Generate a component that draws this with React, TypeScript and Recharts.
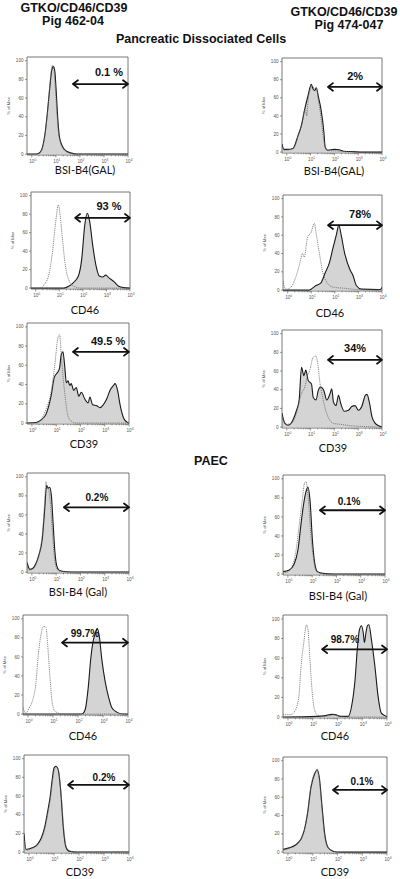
import React from "react";
import { ComposedChart, Area, Line, XAxis, YAxis, ReferenceLine, ReferenceDot } from "recharts";

type Pt = [number, number];

// x = log10 fluorescence (decades), y = % of max
// Pancreatic dissociated cells
const pancGal462: Pt[] = [[-0.2, 0], [0.2, 0], [0.35, 2], [0.45, 8], [0.55, 22], [0.65, 45], [0.75, 72], [0.83, 90], [0.9, 94], [0.96, 88], [1.02, 65], [1.08, 38], [1.14, 20], [1.2, 13], [1.3, 7], [1.45, 3], [1.65, 1], [1.9, 0], [4, 0]];
const pancGal462Ctl: Pt[] = [[-0.2, 0], [0.25, 0], [0.38, 3], [0.48, 10], [0.58, 27], [0.68, 52], [0.77, 80], [0.85, 95], [0.92, 90], [0.98, 70], [1.04, 45], [1.1, 25], [1.17, 14], [1.27, 7], [1.4, 3], [1.6, 1], [1.85, 0], [4, 0]];
const pancGal474: Pt[] = [[-0.2, 9], [-0.12, 3], [0.05, 3], [0.26, 4], [0.47, 18], [0.61, 29], [0.75, 47], [0.89, 62], [1.03, 75], [1.1, 70], [1.17, 68], [1.24, 71], [1.33, 61], [1.44, 47], [1.56, 22], [1.61, 6], [1.72, 2], [2.0, 3], [2.2, 2.5], [2.4, 1], [2.8, 0.5], [3.2, 0], [4, 0]];
const pancGal474Ctl: Pt[] = [[-0.2, 6], [-0.1, 2], [0.1, 2.5], [0.3, 5], [0.5, 20], [0.65, 33], [0.78, 48], [0.84, 40], [0.9, 58], [1.0, 70], [1.08, 73], [1.16, 70], [1.24, 72], [1.32, 58], [1.42, 42], [1.52, 20], [1.6, 7], [1.7, 2], [1.9, 1.5], [2.2, 1], [2.6, 0.3], [4, 0]];
const pancCd46_462: Pt[] = [[-0.2, 0], [1.2, 0], [1.4, 2], [1.6, 6], [1.81, 13], [1.95, 31], [2.08, 68], [2.19, 81], [2.29, 72], [2.42, 46], [2.56, 24], [2.7, 13], [2.84, 12], [2.97, 14], [3.11, 11], [3.32, 7], [3.52, 2], [3.73, 0.5], [4, 0]];
const pancCd46_462Ctl: Pt[] = [[-0.2, 0], [0.15, 0], [0.37, 4], [0.58, 17], [0.71, 39], [0.85, 72], [0.96, 90], [1.04, 78], [1.12, 57], [1.26, 24], [1.4, 9], [1.6, 2], [1.95, 0], [4, 0]];
const pancCd46_474: Pt[] = [[-0.2, 0], [0.9, 0], [0.99, 1], [1.2, 5], [1.41, 8], [1.59, 19], [1.77, 30], [1.91, 45], [2.06, 60], [2.17, 71], [2.27, 60], [2.41, 41], [2.63, 23], [2.77, 16], [2.91, 5], [3.13, 1], [3.84, 0.5], [3.95, 1], [4, 3]];
const pancCd46_474Ctl: Pt[] = [[-0.2, 10], [-0.12, 2], [-0.04, 1], [0.13, 3], [0.34, 14], [0.49, 27], [0.63, 40], [0.7, 36], [0.84, 58], [0.99, 63], [1.13, 73], [1.2, 63], [1.34, 41], [1.49, 19], [1.63, 10], [1.77, 5], [1.99, 3], [2.41, 2], [2.99, 0.5], [4, 0]];
const pancCd39_462: Pt[] = [[-0.2, 0], [0.17, 0.5], [0.37, 3], [0.58, 9], [0.79, 28], [0.93, 48], [1.07, 53], [1.14, 57], [1.21, 71], [1.28, 74], [1.35, 60], [1.42, 42], [1.49, 44], [1.56, 39], [1.62, 41], [1.72, 34], [1.83, 37], [1.93, 28], [2.04, 32], [2.18, 25], [2.32, 21], [2.39, 27], [2.5, 19], [2.67, 18], [2.81, 16], [2.94, 19], [3.08, 25], [3.22, 34], [3.36, 39], [3.43, 41], [3.53, 34], [3.64, 18], [3.78, 5], [3.92, 1], [4, 0]];
const pancCd39_462Ctl: Pt[] = [[-0.2, 0], [0.2, 0], [0.37, 3], [0.58, 14], [0.79, 32], [0.93, 57], [1.07, 88], [1.14, 92], [1.22, 67], [1.35, 32], [1.49, 7], [1.62, 2], [1.83, 0], [4, 0]];
const pancCd39_474: Pt[] = [[-0.2, 15], [-0.08, 4], [0.06, 2], [0.27, 8], [0.41, 18], [0.52, 29], [0.62, 64], [0.72, 55], [0.8, 61], [0.9, 50], [1.04, 46], [1.11, 32], [1.23, 29], [1.32, 39], [1.42, 43], [1.56, 39], [1.68, 29], [1.82, 36], [1.89, 41], [1.96, 27], [2.07, 23], [2.17, 34], [2.27, 25], [2.41, 17], [2.59, 18], [2.73, 22], [2.87, 23], [3.01, 18], [3.15, 22], [3.3, 34], [3.37, 35], [3.48, 25], [3.58, 11], [3.72, 4], [3.86, 1.5], [4, 0]];
const pancCd39_474Ctl: Pt[] = [[-0.2, 11], [-0.04, 3], [0.2, 4], [0.41, 15], [0.62, 36], [0.76, 43], [0.86, 54], [0.97, 61], [1.11, 75], [1.23, 76], [1.3, 68], [1.39, 48], [1.51, 32], [1.61, 20], [1.75, 10], [1.96, 4], [2.24, 3], [2.66, 1.5], [3.37, 0.5], [4, 0]];

// PAEC
const paecGal462: Pt[] = [[-0.2, 10], [-0.08, 3], [0.01, 3.5], [0.15, 8], [0.29, 18], [0.43, 35], [0.52, 63], [0.61, 91], [0.66, 88], [0.73, 89], [0.8, 81], [0.88, 49], [0.95, 21], [1.02, 7], [1.12, 2], [1.32, 0.5], [1.6, 0], [4, 0]];
const paecGal462Ctl: Pt[] = [[-0.2, 6], [-0.1, 2], [0.05, 3], [0.2, 10], [0.33, 22], [0.45, 45], [0.53, 75], [0.58, 95], [0.63, 90], [0.7, 86], [0.77, 70], [0.85, 40], [0.93, 15], [1.0, 5], [1.1, 1.5], [1.3, 0.3], [4, 0]];
const paecGal474: Pt[] = [[-0.2, 2.5], [0.04, 4], [0.25, 10], [0.42, 26], [0.53, 50], [0.64, 72], [0.74, 86], [0.83, 91], [0.92, 75], [1.01, 36], [1.11, 11], [1.22, 2.5], [1.43, 0.7], [1.9, 0], [4, 0]];
const paecGal474Ctl: Pt[] = [[-0.2, 1], [0.04, 3], [0.18, 8.5], [0.32, 22], [0.46, 50], [0.6, 79], [0.69, 96], [0.75, 97], [0.83, 82], [0.94, 43], [1.06, 15], [1.15, 4], [1.36, 0.7], [1.8, 0], [4, 0]];
const paecCd46_462: Pt[] = [[-0.2, 0], [2.1, 0], [2.2, 0.7], [2.3, 6], [2.41, 28], [2.51, 58], [2.61, 77], [2.7, 85], [2.77, 90], [2.85, 82], [2.95, 58], [3.08, 35], [3.22, 18], [3.35, 7], [3.55, 2], [3.82, 0], [4, 0]];
const paecCd46_462Ctl: Pt[] = [[-0.2, 7], [-0.09, 1], [0.04, 6], [0.18, 14], [0.31, 31], [0.41, 62], [0.51, 82], [0.62, 92], [0.72, 91], [0.78, 75], [0.88, 38], [0.96, 14], [1.05, 4], [1.26, 0.7], [1.6, 0], [4, 0]];
const paecCd46_474: Pt[] = [[-0.2, 0], [1.17, 0.7], [1.51, 1.4], [1.77, 2.7], [1.91, 2.4], [2.11, 0.7], [2.44, 0.7], [2.57, 11], [2.71, 38], [2.8, 69], [2.88, 88], [2.97, 93], [3.04, 86], [3.09, 76], [3.15, 86], [3.21, 93], [3.27, 94], [3.37, 79], [3.51, 52], [3.64, 21], [3.77, 4], [3.97, 0.7], [4, 0]];
const paecCd46_474Ctl: Pt[] = [[-0.2, 2.4], [0.11, 2.4], [0.31, 7.5], [0.44, 21], [0.53, 52], [0.64, 76], [0.75, 94], [0.81, 89], [0.88, 62], [0.97, 28], [1.07, 7.5], [1.17, 2.4], [1.44, 0.7], [1.71, 1.5], [1.84, 2.4], [1.97, 1.7], [2.11, 0.7], [2.37, 0], [4, 0]];
const paecCd39_462: Pt[] = [[-0.2, 20], [-0.12, 3], [-0.07, 3], [0.13, 4.5], [0.33, 8], [0.49, 15], [0.63, 27], [0.73, 41], [0.84, 58], [0.93, 78], [1.0, 90], [1.07, 92], [1.16, 89], [1.27, 65], [1.37, 27], [1.47, 6], [1.6, 1], [1.93, 0], [4, 0]];
const paecCd39_462Ctl: Pt[] = [[-0.2, 12], [-0.12, 2], [0.1, 3.5], [0.3, 7], [0.5, 14], [0.65, 27], [0.76, 42], [0.87, 60], [0.96, 80], [1.04, 90], [1.1, 91], [1.18, 87], [1.3, 58], [1.4, 22], [1.5, 5], [1.65, 0.8], [2, 0], [4, 0]];
const paecCd39_474: Pt[] = [[-0.2, 3], [0.04, 4.6], [0.32, 8], [0.52, 14], [0.66, 24], [0.79, 42], [0.93, 71], [1.07, 85], [1.18, 90], [1.27, 81], [1.38, 49], [1.48, 21], [1.62, 5], [1.82, 1], [2.1, 0], [4, 0]];
const paecCd39_474Ctl: Pt[] = [[-0.2, 2], [0.04, 4], [0.32, 7.5], [0.52, 14], [0.68, 26], [0.8, 45], [0.93, 72], [1.06, 86], [1.16, 89], [1.24, 84], [1.36, 52], [1.46, 22], [1.6, 6], [1.8, 1], [2.1, 0], [4, 0]];

const samples = [pancGal462, pancGal474, pancCd46_462, pancCd46_474, pancCd39_462, pancCd39_474, paecGal462, paecGal474, paecCd46_462, paecCd46_474, paecCd39_462, paecCd39_474];
const controls = [pancGal462Ctl, pancGal474Ctl, pancCd46_462Ctl, pancCd46_474Ctl, pancCd39_462Ctl, pancCd39_474Ctl, paecGal462Ctl, paecGal474Ctl, paecCd46_462Ctl, paecCd46_474Ctl, paecCd39_462Ctl, paecCd39_474Ctl];
const markers = ["BSI-B4(GAL)", "BSI-B4(GAL)", "CD46", "CD46", "CD39", "CD39", "BSI-B4 (Gal)", "BSI-B4 (Gal)", "CD46", "CD46", "CD39", "CD39"];
const positives = ["0.1 %", "2%", "93 %", "78%", "49.5 %", "34%", "0.2%", "0.1%", "99.7%", "98.7%", "0.2%", "0.1%"];
const gateStart = [1.71, 1.73, 1.67, 1.71, 1.69, 1.73, 1.32, 1.32, 1.36, 1.38, 1.56, 1.82];
const gateLevel = [75, 72, 76, 71, 74, 72, 68, 67, 75, 69, 72, 68];

const DECADES = [0, 1, 2, 3, 4];
const Y_TICKS = [0, 20, 40, 60, 80, 100];
const X_TICKS = [
  ...DECADES,
  ...DECADES.slice(0, 4).flatMap((d) => [2, 3, 4, 5, 6, 7, 8, 9].map((k) => d + Math.log10(k))),
];
const X_MIN = -0.2;
const X_MAX = 4;
const Y_MIN = -1;
const Y_MAX = 104;

// plot box of each panel on the page, plus text placement
const layout = [
  { left: 27, top: 57, w: 101, h: 98, pctX: 3.21, pctY: 88, fs: 11, dx: 7.5, dy: 15 },
  { left: 282, top: 58, w: 100, h: 95, pctX: 2.87, pctY: 84, fs: 11, dx: 2, dy: 18 },
  { left: 31, top: 192, w: 99, h: 97, pctX: 3.11, pctY: 89, fs: 11, dx: 4.5, dy: 21 },
  { left: 283, top: 195, w: 99, h: 96, pctX: 3.07, pctY: 83, fs: 11, dx: -2.5, dy: 22 },
  { left: 27, top: 323, w: 102, h: 101, pctX: 3.14, pctY: 85, fs: 11, dx: 6, dy: 19.5 },
  { left: 282, top: 330, w: 100, h: 98, pctX: 2.87, pctY: 85, fs: 11, dx: 1, dy: 19.5 },
  { left: 27, top: 473, w: 102, h: 100, pctX: 2.68, pctY: 78, fs: 10, dx: 0, dy: 19 },
  { left: 283, top: 475, w: 102, h: 100, pctX: 2.52, pctY: 76, fs: 10, dx: 4, dy: 21 },
  { left: 23, top: 615, w: 105, h: 100, pctX: 2.28, pctY: 85, fs: 10, dx: 7.5, dy: 21 },
  { left: 283, top: 615, w: 104, h: 103, pctX: 2.3, pctY: 79, fs: 10, dx: 0, dy: 18 },
  { left: 24, top: 755, w: 105, h: 98, pctX: 3.0, pctY: 80, fs: 10, dx: 3.5, dy: 19 },
  { left: 283, top: 757, w: 104, h: 96, pctX: 2.99, pctY: 77, fs: 10, dx: 0, dy: 19 },
];

const YW = 22;
const MT = 4;
const MR = 6;
const XH = 30;
const AXIS = "#555";
const BOLD = "'Liberation Sans', Arial, sans-serif";

const rows = (pts: Pt[]) => pts.map(([x, y]) => ({ x, y }));

const XTick = ({ x, y, payload }: any) => {
  const v = payload.value;
  const major = Math.abs(v - Math.round(v)) < 1e-6;
  return (
    <g>
      <line x1={x} y1={y} x2={x} y2={y + (major ? 2.5 : 1.3)} stroke={AXIS} strokeWidth={0.6} />
      {major && (
        <text x={x + 1} y={y + 7.8} textAnchor="middle" fontSize={4.6} fill="#555" fontFamily={BOLD}>
          10<tspan dy={-2} fontSize={3.3}>{Math.round(v)}</tspan>
        </text>
      )}
    </g>
  );
};

const YTick = ({ x, y, payload }: any) => (
  <g>
    <line x1={x - 2} y1={y} x2={x} y2={y} stroke={AXIS} strokeWidth={0.6} />
    <text x={x - 3.5} y={y + 1.6} textAnchor="end" fontSize={4.6} fill="#555" fontFamily={BOLD}>
      {payload.value}
    </text>
  </g>
);

const Arrow = (props: any) => {
  const { x1, y1, x2 } = props;
  const a = 5;
  const b = 3.8;
  return (
    <g stroke="#111" strokeWidth={1.8} fill="none" strokeLinecap="round" strokeLinejoin="round">
      <line x1={x1 + 1} y1={y1} x2={x2 - 1} y2={y1} />
      <polyline points={`${x1 + a},${y1 - b} ${x1},${y1} ${x1 + a},${y1 + b}`} />
      <polyline points={`${x2 - a},${y1 - b} ${x2},${y1} ${x2 - a},${y1 + b}`} />
    </g>
  );
};

const Histogram = ({ i }: { i: number }) => {
  const box = layout[i];
  const width = box.w + YW + MR;
  const height = box.h + MT + XH;
  return (
    <div style={{ position: "absolute", left: box.left - YW, top: box.top - MT, width, height }}>
      <ComposedChart width={width} height={height} margin={{ top: MT, right: MR, left: 0, bottom: 0 }}>
        <XAxis
          dataKey="x"
          type="number"
          domain={[X_MIN, X_MAX]}
          allowDataOverflow
          ticks={X_TICKS}
          interval={0}
          tick={<XTick />}
          tickSize={0}
          tickMargin={0}
          height={XH}
          axisLine={{ stroke: AXIS, strokeWidth: 0.8 }}
          label={({ viewBox }: any) => (
            <text
              x={viewBox.x + viewBox.width / 2 + box.dx}
              y={viewBox.y + box.dy + 4}
              textAnchor="middle"
              fontSize={11}
              fill="#111"
              fontFamily="Lato, 'Open Sans', sans-serif"
            >
              {markers[i]}
            </text>
          )}
        />
        <YAxis
          type="number"
          domain={[Y_MIN, Y_MAX]}
          allowDataOverflow
          ticks={Y_TICKS}
          interval={0}
          tick={<YTick />}
          tickSize={0}
          tickMargin={0}
          width={YW}
          axisLine={{ stroke: AXIS, strokeWidth: 0.8 }}
          label={({ viewBox }: any) => (
            <text
              transform={`translate(${viewBox.x + 4.5},${viewBox.y + viewBox.height / 2}) rotate(-90)`}
              textAnchor="middle"
              fontSize={4.2}
              fill="#555"
              fontFamily={BOLD}
            >
              % of Max
            </text>
          )}
        />
        <ReferenceLine x={X_MAX} stroke={AXIS} strokeWidth={0.8} />
        <ReferenceLine y={Y_MAX} stroke={AXIS} strokeWidth={0.8} />
        <Area
          data={rows(samples[i])}
          dataKey="y"
          type="monotone"
          stroke="#1a1a1a"
          strokeWidth={1.1}
          fill="#d4d4d4"
          fillOpacity={1}
          dot={false}
          activeDot={false}
          isAnimationActive={false}
        />
        <Line
          data={rows(controls[i])}
          dataKey="y"
          type="monotone"
          stroke="#6b6b6b"
          strokeWidth={0.8}
          strokeDasharray="1.2 0.9"
          dot={false}
          activeDot={false}
          isAnimationActive={false}
        />
        <ReferenceLine
          segment={[
            { x: gateStart[i], y: gateLevel[i] },
            { x: X_MAX, y: gateLevel[i] },
          ]}
          ifOverflow="visible"
          shape={<Arrow />}
        />
        <ReferenceDot
          x={box.pctX}
          y={box.pctY}
          r={0}
          ifOverflow="visible"
          shape={(p: any) => (
            <text
              x={p.cx}
              y={p.cy + box.fs * 0.36}
              textAnchor="middle"
              fontSize={box.fs}
              fontWeight="bold"
              fill="#111"
              fontFamily={BOLD}
            >
              {positives[i]}
            </text>
          )}
        />
      </ComposedChart>
    </div>
  );
};

export default function App() {
  return (
    <div style={{ position: "absolute", left: 0, top: 0, width: 400, height: 879, background: "#fff", overflow: "hidden" }}>
      <svg width={400} height={879} style={{ position: "absolute", left: 0, top: 0 }}>
        <g fontFamily={BOLD} fontWeight="bold" fontSize={12.5} fill="#111" textAnchor="middle">
          <text x={74} y={12}>GTKO/CD46/CD39</text>
          <text x={73} y={24.5}>Pig 462-04</text>
          <text x={344} y={15.5}>GTKO/CD46/CD39</text>
          <text x={349} y={29}>Pig 474-047</text>
          <text x={201} y={42.5}>Pancreatic Dissociated Cells</text>
          <text x={211} y={465}>PAEC</text>
        </g>
      </svg>
      {samples.map((_, i) => (
        <Histogram key={i} i={i} />
      ))}
    </div>
  );
}
